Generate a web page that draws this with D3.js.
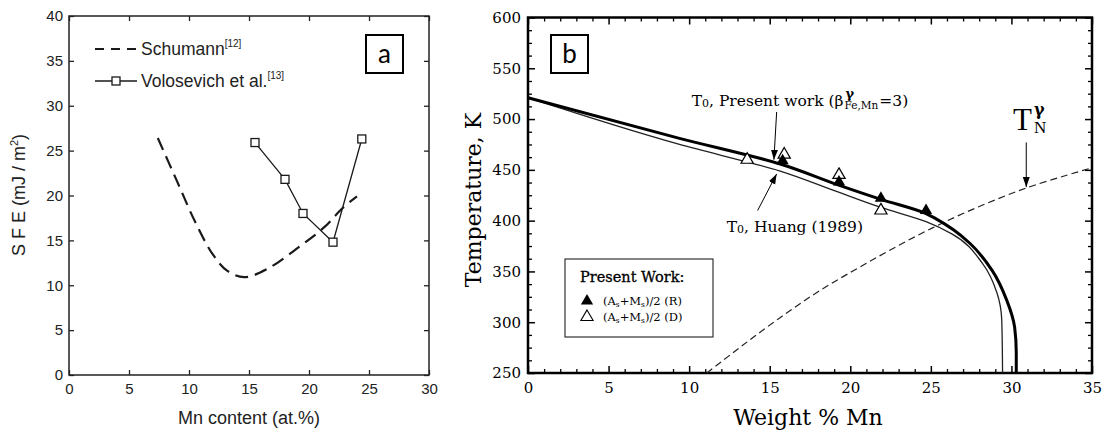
<!DOCTYPE html>
<html lang="en">
<head>
<meta charset="utf-8">
<script src="https://cdnjs.cloudflare.com/ajax/libs/d3/7.8.5/d3.min.js"></script>
<style>
  body { margin: 0; background: #fff; }
  svg { display: block; }
</style>
</head>
<body>
<svg id="chart" width="1105" height="434"></svg>
<script>
// ---- panel a data : SFE vs Mn content ----
var schumannMn  = [7.4, 9.0, 10.5, 12.0, 13.2, 14.6, 16.5, 19.2, 21.3, 22.8, 24.0];
var schumannSfe = [26.4, 21.6, 17.1, 13.4, 11.6, 10.9, 11.8, 14.3, 16.5, 18.6, 19.9];
var voloMn  = [15.5, 18.0, 19.5, 22.0, 24.4];
var voloSfe = [25.9, 21.8, 18.0, 14.8, 26.3];
var aTicksX = [0, 5, 10, 15, 20, 25, 30];
var aTicksY = [0, 5, 10, 15, 20, 25, 30, 35, 40];

// ---- panel b data : T0 and Neel temperature vs weight % Mn ----
var presentMn = [0, 9.4, 15.6, 19.1, 21.9, 24.7, 25.3, 26.4, 27.4, 28.8, 29.7, 30.2, 30.3, 30.3];
var presentT  = [521, 481, 456, 436, 421, 407, 402, 391, 378, 351, 322, 295, 270, 250];
var huangMn = [0, 9.4, 15.6, 19.1, 21.9, 24.7, 26.3, 28.2, 29.1, 29.4, 29.45];
var huangT  = [521, 475, 449, 429, 413, 399, 387, 358, 329, 302, 250];
var neelMn = [11.1, 13.3, 15.6, 18.1, 21, 24, 27, 30.9, 35];
var neelT  = [250, 277, 304, 331, 358, 384, 407, 432, 452];
var filledMn = [15.8, 19.3, 21.9, 24.7];
var filledT  = [459, 438, 422, 410];
var openMn = [13.6, 15.9, 19.3, 21.9];
var openT  = [460, 465, 445, 410];
var bTicksX = [0, 5, 10, 15, 20, 25, 30, 35];
var bTicksY = [250, 300, 350, 400, 450, 500, 550, 600];

var svg = d3.select("#chart");

svg.append("defs").append("marker")
    .attr("id", "head")
    .attr("viewBox", "0 0 10 10")
    .attr("refX", 10).attr("refY", 5)
    .attr("markerWidth", 10).attr("markerHeight", 10)
    .attr("markerUnits", "userSpaceOnUse")
    .attr("orient", "auto")
  .append("path")
    .attr("d", "M0,1.5L10,5L0,8.5Z")
    .attr("fill", "#000");

// =============== panel a ===============
var xA = d3.scaleLinear().domain([0, 30]).range([69, 429]);
var yA = d3.scaleLinear().domain([0, 40]).range([375, 16]);
var sansA = "'Liberation Sans', Arial, sans-serif";

var ga = svg.append("g");

function styleAxis(g, font, size, color, width) {
    g.select(".domain").remove();
    g.selectAll("text").attr("font-family", font).attr("font-size", size).attr("fill", color);
    g.selectAll("line").attr("stroke", color).attr("stroke-width", width);
}

ga.append("g").attr("transform", `translate(0,${yA(0)})`)
    .call(d3.axisBottom(xA).tickValues(aTicksX).tickSize(-5).tickSizeOuter(0).tickPadding(8))
    .call(g => styleAxis(g, sansA, 15, "#222", 1.3));
ga.append("g").attr("transform", `translate(0,${yA(40)})`)
    .call(d3.axisTop(xA).tickValues(aTicksX).tickSize(-5).tickSizeOuter(0).tickFormat(""))
    .call(g => styleAxis(g, sansA, 15, "#222", 1.3));
ga.append("g").attr("transform", `translate(${xA(0)},0)`)
    .call(d3.axisLeft(yA).tickValues(aTicksY).tickSize(-5).tickSizeOuter(0).tickPadding(6))
    .call(g => styleAxis(g, sansA, 15, "#222", 1.3));
ga.append("g").attr("transform", `translate(${xA(30)},0)`)
    .call(d3.axisRight(yA).tickValues(aTicksY).tickSize(-5).tickSizeOuter(0).tickFormat(""))
    .call(g => styleAxis(g, sansA, 15, "#222", 1.3));

ga.append("rect")
    .attr("x", xA(0)).attr("y", yA(40))
    .attr("width", xA(30) - xA(0)).attr("height", yA(0) - yA(40))
    .attr("fill", "none").attr("stroke", "#222").attr("stroke-width", 1.5);

// Schumann dashed curve
var lineSch = d3.line()
    .x((d, i) => xA(schumannMn[i]))
    .y(d => yA(d))
    .curve(d3.curveCatmullRom.alpha(0.5));
ga.append("path")
    .attr("d", lineSch(schumannSfe))
    .attr("fill", "none").attr("stroke", "#1a1a1a")
    .attr("stroke-width", 2.2).attr("stroke-dasharray", "13,7");

// Volosevich line + open squares
var lineVol = d3.line().x((d, i) => xA(voloMn[i])).y(d => yA(d));
ga.append("path")
    .attr("d", lineVol(voloSfe))
    .attr("fill", "none").attr("stroke", "#1a1a1a").attr("stroke-width", 1.3);
ga.selectAll("rect.sq").data(voloSfe).enter().append("rect")
    .attr("class", "sq")
    .attr("x", (d, i) => xA(voloMn[i]) - 4).attr("y", d => yA(d) - 4)
    .attr("width", 8).attr("height", 8)
    .attr("fill", "#fff").attr("stroke", "#1a1a1a").attr("stroke-width", 1.3);

// legend a
ga.append("line").attr("x1", 95).attr("x2", 137).attr("y1", 49).attr("y2", 49)
    .attr("stroke", "#1a1a1a").attr("stroke-width", 2).attr("stroke-dasharray", "9,7");
ga.append("line").attr("x1", 95).attr("x2", 137).attr("y1", 81).attr("y2", 81)
    .attr("stroke", "#1a1a1a").attr("stroke-width", 1.3);
ga.append("rect").attr("x", 112).attr("y", 77).attr("width", 8).attr("height", 8)
    .attr("fill", "#fff").attr("stroke", "#1a1a1a").attr("stroke-width", 1.3);

var leg1 = ga.append("text").attr("x", 141).attr("y", 55)
    .attr("font-family", sansA).attr("font-size", 17.5).attr("fill", "#222");
leg1.append("tspan").text("Schumann");
leg1.append("tspan").attr("font-size", 10).attr("dy", -8).text("[12]");
var leg2 = ga.append("text").attr("x", 141).attr("y", 87)
    .attr("font-family", sansA).attr("font-size", 17.5).attr("fill", "#222");
leg2.append("tspan").text("Volosevich et al.");
leg2.append("tspan").attr("font-size", 10).attr("dy", -8).text("[13]");

// panel letter a
ga.append("rect").attr("x", 366).attr("y", 35).attr("width", 37).attr("height", 38)
    .attr("fill", "#fff").attr("stroke", "#000").attr("stroke-width", 2);
ga.append("text").attr("x", 384.5).attr("y", 63).attr("text-anchor", "middle")
    .attr("font-family", "Lato, sans-serif").attr("font-size", 26).text("a");

// axis titles a
ga.append("text").attr("x", 249).attr("y", 424).attr("text-anchor", "middle")
    .attr("font-family", sansA).attr("font-size", 18).attr("fill", "#222")
    .text("Mn content (at.%)");
var ya = ga.append("text")
    .attr("transform", "translate(25,195) rotate(-90)")
    .attr("text-anchor", "middle")
    .attr("font-family", sansA).attr("font-size", 18).attr("fill", "#222");
ya.append("tspan").text("S F E (mJ / m");
ya.append("tspan").attr("font-size", 11).attr("dy", -7).text("2");
ya.append("tspan").attr("dy", 7).text(")");

// =============== panel b ===============
var xB = d3.scaleLinear().domain([0, 35]).range([528, 1092]);
var yB = d3.scaleLinear().domain([250, 600]).range([373, 17.5]);
var serif = "'DejaVu Serif', serif";
var minorX = d3.range(0, 35.01, 1).filter(v => bTicksX.indexOf(v) < 0);
var minorY = d3.range(250, 600.01, 12.5).filter(v => bTicksY.indexOf(v) < 0);

var gb = svg.append("g");

gb.append("g").attr("transform", `translate(0,${yB(250)})`)
    .call(d3.axisBottom(xB).tickValues(bTicksX).tickSize(-7).tickSizeOuter(0).tickPadding(9))
    .call(g => styleAxis(g, serif, 15, "#000", 1.5));
gb.append("g").attr("transform", `translate(0,${yB(250)})`)
    .call(d3.axisBottom(xB).tickValues(minorX).tickSize(-4).tickSizeOuter(0).tickFormat(""))
    .call(g => styleAxis(g, serif, 15, "#000", 1.3));
gb.append("g").attr("transform", `translate(0,${yB(600)})`)
    .call(d3.axisTop(xB).tickValues(bTicksX).tickSize(-7).tickSizeOuter(0).tickFormat(""))
    .call(g => styleAxis(g, serif, 15, "#000", 1.5));
gb.append("g").attr("transform", `translate(0,${yB(600)})`)
    .call(d3.axisTop(xB).tickValues(minorX).tickSize(-4).tickSizeOuter(0).tickFormat(""))
    .call(g => styleAxis(g, serif, 15, "#000", 1.3));
gb.append("g").attr("transform", `translate(${xB(0)},0)`)
    .call(d3.axisLeft(yB).tickValues(bTicksY).tickSize(-7).tickSizeOuter(0).tickPadding(7))
    .call(g => styleAxis(g, serif, 15, "#000", 1.5));
gb.append("g").attr("transform", `translate(${xB(0)},0)`)
    .call(d3.axisLeft(yB).tickValues(minorY).tickSize(-4).tickSizeOuter(0).tickFormat(""))
    .call(g => styleAxis(g, serif, 15, "#000", 1.3));
gb.append("g").attr("transform", `translate(${xB(35)},0)`)
    .call(d3.axisRight(yB).tickValues(bTicksY).tickSize(-7).tickSizeOuter(0).tickFormat(""))
    .call(g => styleAxis(g, serif, 15, "#000", 1.5));
gb.append("g").attr("transform", `translate(${xB(35)},0)`)
    .call(d3.axisRight(yB).tickValues(minorY).tickSize(-4).tickSizeOuter(0).tickFormat(""))
    .call(g => styleAxis(g, serif, 15, "#000", 1.3));

gb.append("rect")
    .attr("x", xB(0)).attr("y", yB(600))
    .attr("width", xB(35) - xB(0)).attr("height", yB(250) - yB(600))
    .attr("fill", "none").attr("stroke", "#000").attr("stroke-width", 2.5);

// Neel temperature dashed curve
var lineNeel = d3.line().x((d, i) => xB(neelMn[i])).y(d => yB(d)).curve(d3.curveCatmullRom.alpha(0.5));
gb.append("path").attr("d", lineNeel(neelT))
    .attr("fill", "none").attr("stroke", "#222").attr("stroke-width", 1.2)
    .attr("stroke-dasharray", "7,4");

// T0 Huang (thin) and present work (thick)
var lineHuang = d3.line().x((d, i) => xB(huangMn[i])).y(d => yB(d)).curve(d3.curveMonotoneY);
gb.append("path").attr("d", lineHuang(huangT))
    .attr("fill", "none").attr("stroke", "#222").attr("stroke-width", 1.3);
var linePresent = d3.line().x((d, i) => xB(presentMn[i])).y(d => yB(d)).curve(d3.curveMonotoneY);
gb.append("path").attr("d", linePresent(presentT))
    .attr("fill", "none").attr("stroke", "#000").attr("stroke-width", 3);

// triangles
var tri = d3.symbol().type(d3.symbolTriangle).size(65);
gb.selectAll("path.open").data(openT).enter().append("path")
    .attr("class", "open")
    .attr("d", tri)
    .attr("transform", (d, i) => `translate(${xB(openMn[i])},${yB(d)})`)
    .attr("fill", "#fff").attr("stroke", "#000").attr("stroke-width", 1.2);
gb.selectAll("path.filled").data(filledT).enter().append("path")
    .attr("class", "filled")
    .attr("d", tri)
    .attr("transform", (d, i) => `translate(${xB(filledMn[i])},${yB(d)})`)
    .attr("fill", "#000");

// annotations
function arrow(x1, t1, x2, t2, w) {
    gb.append("line")
        .attr("x1", xB(x1)).attr("y1", yB(t1))
        .attr("x2", xB(x2)).attr("y2", yB(t2))
        .attr("stroke", "#000").attr("stroke-width", w)
        .attr("marker-end", "url(#head)");
}
arrow(15.43, 507, 15.26, 460, 1);
arrow(14.25, 410, 15.43, 446, 1);
arrow(30.92, 477, 30.92, 433, 1);

var ann1 = gb.append("text").attr("x", xB(10.16)).attr("y", yB(513))
    .attr("font-family", serif).attr("font-size", 15.5);
ann1.append("tspan").text("T");
ann1.append("tspan").attr("font-size", 11).attr("dy", 1).text("0");
ann1.append("tspan").attr("dy", -1).text(", Present work (β");
var w1 = ann1.node().getComputedTextLength();
var bx = xB(10.16) + w1 + 1;
gb.append("text").attr("x", bx + 1).attr("y", yB(513) - 8)
    .attr("font-family", serif).attr("font-size", 13).attr("font-weight", "bold").text("γ");
var sub = gb.append("text").attr("x", bx).attr("y", yB(513) + 3)
    .attr("font-family", serif).attr("font-size", 10.5).text("Fe,Mn");
var ws = sub.node().getComputedTextLength();
gb.append("text").attr("x", bx + ws + 1).attr("y", yB(513))
    .attr("font-family", serif).attr("font-size", 15.5).text("=3)");

var ann2 = gb.append("text").attr("x", xB(12.33)).attr("y", yB(389))
    .attr("font-family", serif).attr("font-size", 15.5);
ann2.append("tspan").text("T");
ann2.append("tspan").attr("font-size", 11).attr("dy", 1).text("0");
ann2.append("tspan").attr("dy", -1).text(", Huang (1989)");

var tn = gb.append("text").attr("x", xB(30.1)).attr("y", yB(489))
    .attr("font-family", "'Liberation Serif', serif").attr("font-size", 31);
tn.text("T");
gb.append("text").attr("x", xB(30.1) + 21).attr("y", yB(489) - 15)
    .attr("font-family", serif).attr("font-size", 16).attr("font-weight", "bold").text("γ");
gb.append("text").attr("x", xB(30.1) + 21).attr("y", yB(489) + 3)
    .attr("font-family", "'Liberation Serif', serif").attr("font-size", 17).text("N");

// legend b
gb.append("rect").attr("x", 565).attr("y", 259).attr("width", 148).attr("height", 78)
    .attr("fill", "#fff").attr("stroke", "#333").attr("stroke-width", 1.2);
gb.append("text").attr("x", 580).attr("y", 282)
    .attr("font-family", serif).attr("font-size", 14.5).attr("stroke", "#000").attr("stroke-width", 0.3)
    .text("Present Work:");
gb.append("path").attr("d", tri).attr("transform", "translate(587,301)").attr("fill", "#000");
gb.append("path").attr("d", tri).attr("transform", "translate(587,317)")
    .attr("fill", "#fff").attr("stroke", "#000").attr("stroke-width", 1.1);
["R", "D"].forEach(function(k, i) {
    var t = gb.append("text").attr("x", 603).attr("y", 305 + i * 16)
        .attr("font-family", serif).attr("font-size", 11.5);
    t.append("tspan").text("(A");
    t.append("tspan").attr("font-size", 7.5).attr("dy", 2).text("s");
    t.append("tspan").attr("dy", -2).text("+M");
    t.append("tspan").attr("font-size", 7.5).attr("dy", 2).text("s");
    t.append("tspan").attr("dy", -2).text(")/2 (" + k + ")");
});

// panel letter b
gb.append("rect").attr("x", 551).attr("y", 35).attr("width", 37).attr("height", 38)
    .attr("fill", "#fff").attr("stroke", "#000").attr("stroke-width", 2);
gb.append("text").attr("x", 569.5).attr("y", 63).attr("text-anchor", "middle")
    .attr("font-family", "Lato, sans-serif").attr("font-size", 26).text("b");

// axis titles b
gb.append("text").attr("x", 808).attr("y", 425).attr("text-anchor", "middle")
    .attr("font-family", serif).attr("font-size", 22)
    .text("Weight % Mn");
gb.append("text")
    .attr("transform", "translate(481,200) rotate(-90)")
    .attr("text-anchor", "middle")
    .attr("font-family", serif).attr("font-size", 22)
    .text("Temperature, K");
</script>
</body>
</html>
